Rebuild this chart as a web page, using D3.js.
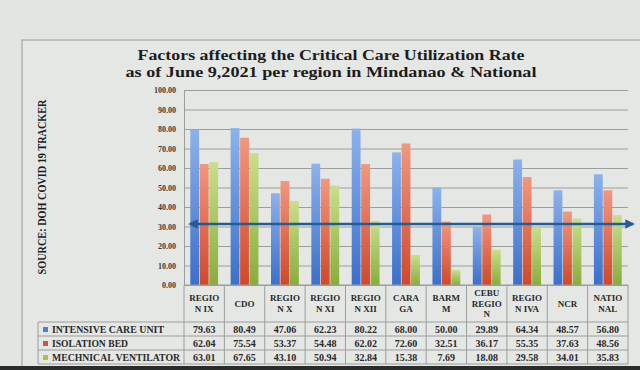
<!DOCTYPE html>
<html>
<head>
<meta charset="utf-8">
<script src="https://cdn.jsdelivr.net/npm/d3@7"></script>
<style>
  html, body { margin: 0; padding: 0; background: #e2e5e2; }
  svg { display: block; }
</style>
</head>
<body>
<div id="chart"></div>
<script>
/* ---- Data ---- */
var categories = ["REGION IX", "CDO", "REGION X", "REGION XI", "REGION XII", "CARAGA", "BARMM", "CEBU REGION", "REGION IVA", "NCR", "NATIONAL"];
var headerLines = [["REGIO", "N IX"], ["CDO"], ["REGIO", "N X"], ["REGIO", "N XI"], ["REGIO", "N XII"], ["CARA", "GA"], ["BARM", "M"], ["CEBU", "REGIO", "N"], ["REGIO", "N IVA"], ["NCR"], ["NATIO", "NAL"]];
var seriesNames = ["INTENSIVE CARE UNIT", "ISOLATION BED", "MECHNICAL VENTILATOR"];
var icu = [79.63, 80.49, 47.06, 62.23, 80.22, 68.00, 50.00, 29.89, 64.34, 48.57, 56.80];
var isolation = [62.04, 75.54, 53.37, 54.48, 62.02, 72.60, 32.51, 36.17, 55.35, 37.63, 48.56];
var ventilator = [63.01, 67.65, 43.10, 50.94, 32.84, 15.38, 7.69, 18.08, 29.58, 34.01, 35.83];
var yTicks = [0, 10, 20, 30, 40, 50, 60, 70, 80, 90, 100];
var arrowLevel = 31.3;
var titleLines = ["Factors affecting the Critical Care Utilization Rate", "as of June 9,2021 per region in Mindanao & National"];
var sourceLabel = "SOURCE: DOH COVID 19 TRACKER";

(function () {
  var W = 640, H = 370;
  var plot = { left: 184, right: 628, top: 90, bottom: 285 };
  var tableRows = [322, 336, 350, 364];
  var legendLeft = 38;
  var gridColor = "#9c9e9c";
  var serif = "'Liberation Serif', 'DejaVu Serif', serif";

  var seriesValues = [icu, isolation, ventilator];
  var gradStops = [
    ["#8db2ec", "#3a6fcb"],
    ["#f2977f", "#d0482a"],
    ["#c9de8a", "#88ad3c"]
  ];
  var legendColors = ["#4f7fd0", "#d2533c", "#a3c250"];

  var svg = d3.select("#chart").append("svg").attr("width", W).attr("height", H);

  /* ---- Background panel ---- */
  svg.append("rect").attr("width", W).attr("height", H).attr("fill", "#e2e5e2");
  svg.append("rect").attr("x", 22).attr("y", 40).attr("width", W).attr("height", 330)
    .attr("fill", "#e4e7e4").attr("stroke", "#a4a7a4").attr("stroke-width", 1.2);
  svg.append("rect").attr("x", 0).attr("y", 366).attr("width", W).attr("height", 4).attr("fill", "#2a2c2b");

  var defs = svg.append("defs");
  gradStops.forEach(function (s, i) {
    var g = defs.append("linearGradient").attr("id", "grad" + i)
      .attr("x1", 0).attr("y1", 0).attr("x2", 0).attr("y2", 1);
    g.append("stop").attr("offset", "0%").attr("stop-color", s[0]);
    g.append("stop").attr("offset", "100%").attr("stop-color", s[1]);
  });
  defs.append("marker").attr("id", "arrow")
    .attr("viewBox", "0 0 10 10").attr("refX", 8).attr("refY", 5)
    .attr("markerWidth", 4).attr("markerHeight", 4)
    .attr("orient", "auto-start-reverse")
    .append("path").attr("d", "M0,0 L10,5 L0,10 z").attr("fill", "#245c94");

  /* ---- Title ---- */
  var titleWidths = [387, 411];
  svg.append("g").selectAll("text").data(titleLines).join("text")
    .attr("x", 331).attr("y", function (d, i) { return 60 + i * 16.5; })
    .attr("text-anchor", "middle")
    .attr("font-family", serif)
    .attr("font-weight", "bold").attr("font-size", "15.5px").attr("fill", "#1d1d1d")
    .attr("textLength", function (d, i) { return titleWidths[i]; })
    .attr("lengthAdjust", "spacingAndGlyphs")
    .text(function (d) { return d; });

  /* ---- Source label ---- */
  svg.append("text")
    .attr("transform", "translate(46,187) rotate(-90)")
    .attr("text-anchor", "middle")
    .attr("font-family", serif).attr("font-weight", "bold").attr("font-size", "13px")
    .attr("textLength", 175).attr("lengthAdjust", "spacingAndGlyphs")
    .attr("fill", "#1d1d1d")
    .text(sourceLabel);

  /* ---- Scales ---- */
  var y = d3.scaleLinear().domain([0, 100]).range([plot.bottom, plot.top]);
  var x0 = d3.scaleBand().domain(categories).range([plot.left, plot.right]);
  var x1 = d3.scaleBand().domain(seriesNames).range([0, x0.bandwidth()])
    .paddingInner(0.07).paddingOuter(0.66);

  /* ---- Grid + y axis ---- */
  var yAxis = svg.append("g")
    .attr("transform", "translate(" + plot.left + ",0)")
    .call(d3.axisLeft(y).tickValues(yTicks).tickFormat(d3.format(".2f"))
      .tickSize(-(plot.right - plot.left)).tickPadding(8));
  yAxis.select(".domain").attr("stroke", gridColor);
  yAxis.selectAll(".tick line").attr("stroke", gridColor).attr("stroke-width", 1);
  yAxis.selectAll(".tick text")
    .attr("font-family", serif).attr("font-weight", "bold").attr("font-size", "8px").attr("fill", "#3a3a3a");

  /* ---- Bars ---- */
  var groups = svg.append("g").selectAll("g").data(categories).join("g")
    .attr("transform", function (d) { return "translate(" + x0(d) + ",0)"; });
  groups.selectAll("rect")
    .data(function (d, ci) {
      return seriesNames.map(function (s, si) { return { s: s, si: si, v: seriesValues[si][ci] }; });
    })
    .join("rect")
    .attr("x", function (d) { return x1(d.s); })
    .attr("width", x1.bandwidth())
    .attr("y", function (d) { return y(d.v); })
    .attr("height", function (d) { return y(0) - y(d.v); })
    .attr("fill", function (d) { return "url(#grad" + d.si + ")"; });

  /* ---- Arrow line ---- */
  svg.append("line")
    .attr("x1", plot.left + 6).attr("x2", 633)
    .attr("y1", y(arrowLevel)).attr("y2", y(arrowLevel))
    .attr("stroke", "#245c94").attr("stroke-width", 2.4)
    .attr("marker-start", "url(#arrow)").attr("marker-end", "url(#arrow)");

  /* ---- Data table ---- */
  var table = svg.append("g").attr("stroke", gridColor).attr("stroke-width", 1).attr("fill", "none");
  table.append("line").attr("x1", plot.left).attr("x2", plot.right).attr("y1", plot.bottom).attr("y2", plot.bottom);
  tableRows.forEach(function (ry) {
    table.append("line").attr("x1", legendLeft).attr("x2", plot.right).attr("y1", ry).attr("y2", ry);
  });
  categories.concat([null]).forEach(function (c) {
    var xx = c === null ? plot.right : x0(c);
    table.append("line").attr("x1", xx).attr("x2", xx).attr("y1", plot.bottom).attr("y2", tableRows[3]);
  });
  table.append("line").attr("x1", legendLeft).attr("x2", legendLeft).attr("y1", tableRows[0]).attr("y2", tableRows[3]);

  // header cells
  var headG = svg.append("g").attr("font-family", serif).attr("font-weight", "bold")
    .attr("font-size", "9px").attr("fill", "#2a2a2a").attr("text-anchor", "middle");
  categories.forEach(function (c, ci) {
    var lines = headerLines[ci];
    var mid = (plot.bottom + tableRows[0]) / 2;
    var lh = 10.5;
    lines.forEach(function (t, li) {
      headG.append("text")
        .attr("x", x0(c) + x0.bandwidth() / 2)
        .attr("y", mid + (li - (lines.length - 1) / 2) * lh + 3.2)
        .text(t);
    });
  });

  // values
  var valG = svg.append("g").attr("font-family", serif).attr("font-weight", "bold")
    .attr("font-size", "10px").attr("fill", "#2a2a2a").attr("text-anchor", "middle");
  seriesValues.forEach(function (vals, si) {
    vals.forEach(function (v, ci) {
      valG.append("text")
        .attr("x", x0(categories[ci]) + x0.bandwidth() / 2)
        .attr("y", tableRows[si] + 10.5)
        .text(d3.format(".2f")(v));
    });
  });

  // legend keys
  var legendWidths = [112, 76, 128];
  var legG = svg.append("g");
  seriesNames.forEach(function (s, si) {
    legG.append("rect").attr("x", 43).attr("y", tableRows[si] + 5).attr("width", 5).attr("height", 5)
      .attr("fill", legendColors[si]);
    legG.append("text").attr("x", 52).attr("y", tableRows[si] + 10.5)
      .attr("font-family", serif).attr("font-weight", "bold").attr("font-size", "10px")
      .attr("textLength", legendWidths[si]).attr("lengthAdjust", "spacingAndGlyphs")
      .attr("fill", "#2a2a2a").text(s);
  });
})();
</script>
</body>
</html>
